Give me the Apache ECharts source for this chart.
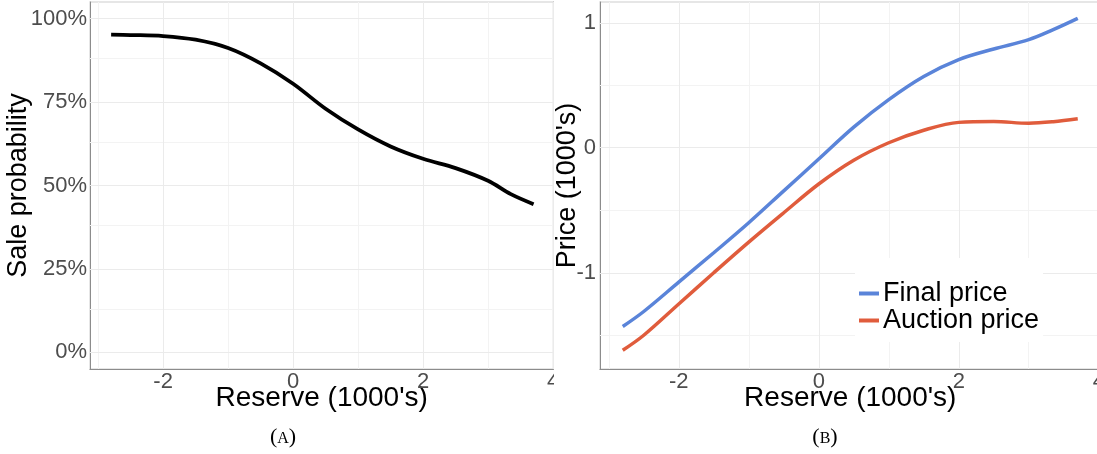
<!DOCTYPE html>
<html><head><meta charset="utf-8">
<script src="https://cdn.jsdelivr.net/npm/echarts@6/dist/echarts.min.js"></script>
<style>
html,body{margin:0;padding:0;width:1097px;height:454px;overflow:hidden;background:#fff;}
#a{position:absolute;left:0;top:0;width:554px;height:454px;overflow:hidden;}
#b{position:absolute;left:554px;top:0;width:560px;height:454px;overflow:hidden;}
</style></head><body><div id="a"></div><div id="b"></div>
<script>
// ---- data ----
const reserveX     = [-2.8, -2.5, -2.0, -1.5, -1.0, -0.5, 0.0, 0.5, 1.0, 1.5, 2.0, 2.5, 3.0, 3.35, 3.7];
const saleProb     = [0.952, 0.951, 0.948, 0.937, 0.912, 0.866, 0.805, 0.730, 0.668, 0.617, 0.580, 0.552, 0.514, 0.474, 0.444];
const finalPrice   = [-1.43, -1.31, -1.075, -0.84, -0.60, -0.345, -0.09, 0.165, 0.385, 0.57, 0.705, 0.79, 0.865, 0.945, 1.035];
const auctionPrice = [-1.62, -1.50, -1.25, -1.00, -0.755, -0.52, -0.29, -0.10, 0.04, 0.14, 0.203, 0.21, 0.196, 0.208, 0.232];
const seriesNames  = ['Final price', 'Auction price'];

// ---- ticks / grid breaks ----
const xMajor     = [-2, 0, 2, 4];
const xMinor     = [-3, -1, 1, 3];
const pctMajor   = [0, 0.25, 0.5, 0.75, 1];
const pctMinor   = [0.125, 0.375, 0.625, 0.875];
const priceMajor = [-1, 0, 1];
const priceMinor = [-1.5, -0.5, 0.5];

const FONT = "'Liberation Sans', Arial, sans-serif";
const SERIF = "'Liberation Serif', 'DejaVu Serif', serif";
const MAJOR = '#ebebeb', MINOR = '#f3f3f3';

function gridLines(xs, xm, ys, ym) {
  const d = [];
  xm.forEach(v => d.push({xAxis: v, lineStyle: {color: MINOR, width: 1, type: 'solid'}}));
  ym.forEach(v => d.push({yAxis: v, lineStyle: {color: MINOR, width: 1, type: 'solid'}}));
  xs.forEach(v => d.push({xAxis: v, lineStyle: {color: MAJOR, width: 1, type: 'solid'}}));
  ys.forEach(v => d.push({yAxis: v, lineStyle: {color: MAJOR, width: 1, type: 'solid'}}));
  return {
    type: 'line', data: [], silent: true, z: 1,
    markLine: { z: 1, silent: true, symbol: ['none', 'none'], label: {show: false},
      lineStyle: {type: 'solid'}, emphasis: {disabled: true}, animation: false, data: d }
  };
}
function pairs(xs, ys) { return xs.map((x, i) => [x, ys[i]]); }

function xAxisCfg(min, max) {
  return {
    type: 'value', min: min, max: max,
    name: "Reserve (1000's)", nameLocation: 'middle', nameGap: 15, nameMoveOverlap: false,
    nameTextStyle: {fontFamily: FONT, fontSize: 28, color: '#000'},
    axisLine: {show: true, onZero: false, lineStyle: {color: '#8c8c8c', width: 1}},
    axisTick: {show: false}, splitLine: {show: false},
    axisLabel: {customValues: xMajor, margin: 2, fontFamily: FONT, fontSize: 22, color: '#4d4d4d',
      formatter: v => String(v)}
  };
}
function caption(x, letter) {
  return { type: 'text', x: x, y: 437, silent: true,
    style: { text: '{p|(}{sc|' + letter + '}{p|)}', fill: '#000', font: '22px ' + SERIF,
      textAlign: 'center', textVerticalAlign: 'middle',
      rich: { p: { fontSize: 22, fontFamily: SERIF, fill: '#000', verticalAlign: 'bottom' },
              sc: { fontSize: 16, fontFamily: SERIF, fill: '#000', verticalAlign: 'bottom', padding: [0, 0, 1, 0] } } } };
}
function gridCfg(left, width) {
  return {left: left, top: 2, width: width, height: 367, containLabel: false, outerBoundsMode: 'none',
    show: true, borderColor: '#dedede', borderWidth: 1.5, backgroundColor: 'transparent'};
}

// ---- panel A ----
const chartA = echarts.init(document.getElementById('a'), null, {renderer: 'canvas'});
chartA.setOption({
  animation: false,
  grid: gridCfg(90, 463.4),
  xAxis: xAxisCfg(-3.125, 4.005),
  yAxis: [{
    type: 'value', min: -0.05, max: 1.05,
    name: 'Sale probability', nameLocation: 'middle', nameGap: 58, nameMoveOverlap: false,
    nameTextStyle: {fontFamily: FONT, fontSize: 27, color: '#000'},
    axisLine: {show: true, onZero: false, lineStyle: {color: '#8c8c8c', width: 1}},
    axisTick: {show: false}, splitLine: {show: false},
    axisLabel: {customValues: pctMajor, margin: 3, fontFamily: FONT, fontSize: 22, color: '#4d4d4d',
      formatter: v => Math.round(v * 100) + '%'}
  }, {
    type: 'value', min: -0.05, max: 1.05, position: 'right',
    axisLine: {show: true, onZero: false, lineStyle: {color: '#b0b0b0', width: 1}},
    axisTick: {show: false}, splitLine: {show: false}, axisLabel: {show: false}
  }],
  graphic: [caption(283, 'A')],
  series: [
    gridLines(xMajor, xMinor, pctMajor, pctMinor),
    { name: 'Sale probability', type: 'line', z: 3, data: pairs(reserveX, saleProb), smooth: 0.35,
      symbol: 'none', lineStyle: {color: '#000', width: 3.8} }
  ]
});

// ---- panel B ----
const chartB = echarts.init(document.getElementById('b'), null, {renderer: 'canvas'});
chartB.setOption({
  animation: false,
  grid: gridCfg(46, 500.5),
  xAxis: xAxisCfg(-3.125, 4.025),
  yAxis: {
    type: 'value', min: -1.77, max: 1.166,
    name: "Price (1000's)", nameLocation: 'middle', nameGap: 19, nameMoveOverlap: false,
    nameTextStyle: {fontFamily: FONT, fontSize: 27, color: '#000'},
    axisLine: {show: true, onZero: false, lineStyle: {color: '#8c8c8c', width: 1}},
    axisTick: {show: false}, splitLine: {show: false},
    axisLabel: {customValues: priceMajor, margin: 4, fontFamily: FONT, fontSize: 22, color: '#4d4d4d',
      formatter: v => String(v)}
  },
  legend: {
    orient: 'vertical', left: 301, top: 258, selectedMode: false,
    data: seriesNames, icon: 'rect', itemWidth: 20, itemHeight: 4, itemGap: 0,
    backgroundColor: '#fff', padding: [22, 4, 8, 4],
    textStyle: {fontFamily: FONT, fontSize: 27, lineHeight: 26, color: '#000', padding: [0, 0, 0, -1]}
  },
  graphic: [caption(271, 'B')],
  series: [
    gridLines(xMajor, xMinor, priceMajor, priceMinor),
    { name: seriesNames[0], type: 'line', z: 3, data: pairs(reserveX, finalPrice), smooth: 0.35,
      symbol: 'none', color: '#5a84d9', lineStyle: {color: '#5a84d9', width: 3.5} },
    { name: seriesNames[1], type: 'line', z: 3, data: pairs(reserveX, auctionPrice), smooth: 0.35,
      symbol: 'none', color: '#e05c3c', lineStyle: {color: '#e05c3c', width: 3.5} }
  ]
});
</script></body></html>
